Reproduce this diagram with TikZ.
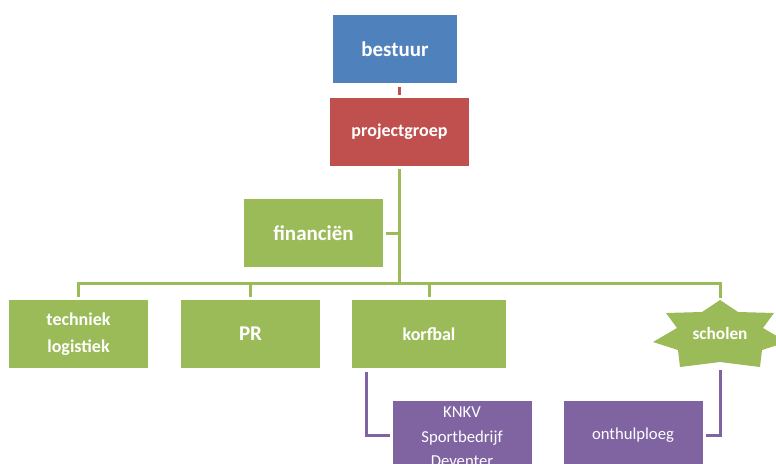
\documentclass[tikz,border=0pt]{standalone}
\usepackage{fontspec}
\setmainfont{Carlito}
\usepackage{tikz}
\definecolor{bestuurblue}{HTML}{4F81BD}
\definecolor{projred}{HTML}{C0504D}
\definecolor{teamgreen}{HTML}{9BBB59}
\definecolor{subpurple}{HTML}{8064A2}
\usetikzlibrary{positioning, calc}
\tikzstyle{block} = [rectangle, fill=teamgreen, text=white, inner sep=0pt, outer sep=0pt,
    minimum width=139pt, minimum height=68pt, align=center,
    font=\bfseries\fontsize{18}{27.5}\selectfont]
\tikzstyle{bigblock} = [block, font=\bfseries\fontsize{21}{25}\selectfont]
\tikzstyle{subblock} = [block, fill=subpurple, font=\fontsize{16.7}{24.5}\selectfont]
\tikzstyle{subtext} = [text=white, align=center, inner sep=0pt, font=\fontsize{16.7}{24.5}\selectfont]
\tikzstyle{starlabel} = [rectangle, text=white, inner sep=0pt, outer sep=0pt,
    minimum width=120pt, font=\bfseries\fontsize{17.3}{20}\selectfont]
\tikzstyle{greenline} = [draw=teamgreen, line width=3pt]
\tikzstyle{redline} = [draw=projred, line width=3pt, shorten <=3.5pt, shorten >=3.5pt]
\tikzstyle{purpleline} = [draw=subpurple, line width=3pt, shorten <=4pt, shorten >=3pt]

\begin{document}
\begin{tikzpicture}[x=1pt, y=-1pt]
    \useasboundingbox (0,0) rectangle (776,463);
    \clip (0,0) rectangle (776,463);

    % Place the blocks
    \node [bigblock, fill=bestuurblue, minimum width=124pt] (bestuur) at (395,49) {bestuur};
    \node [block, fill=projred, below=15pt of bestuur, xshift=4.5pt] (projectgroep) {projectgroep};
    \node [bigblock] (financien) at (313.5,233) {financiën};
    \node [block] (techniek) at (78.5,334) {techniek\\logistiek};
    \node [bigblock, right=33pt of techniek] (pr) {PR};
    \node [block, right=32pt of pr, minimum width=154pt] (korfbal) {korfbal};
    \coordinate (starc) at (720,335);
    \fill [teamgreen, shift={(starc)}] (0,-35) -- (-18,-23) -- (-54,-22) -- (-43,-7)
        -- (-67,7) -- (-42,15) -- (-40,32) -- (0,27) -- (40,32) -- (42,15) -- (67,7)
        -- (43,-7) -- (54,-22) -- (18,-23) -- cycle;
    \node [starlabel, minimum height=65pt] (scholen) at (720,333) {scholen};
    \node [subblock, label={[subtext, yshift=-2pt]center:{KNKV\\Sportbedrijf\\Deventer}}]
        (knkv) at (462,435) {};
    \node [subblock, right=32pt of knkv] (onthulploeg) {onthulploeg};
    \coordinate (hub) at (projectgroep.south |- 0,283);

    % Connect the nodes
    \draw [redline] (projectgroep.north |- bestuur.south) -- (projectgroep.north);
    \draw [greenline, shorten <=3pt] (projectgroep) -- (hub);
    \draw [greenline, shorten <=3pt] (financien) -- (financien -| hub);
    \foreach \team in {techniek, pr, korfbal, scholen}
        \draw [greenline, shorten >=3pt] (hub) -| (\team);
    \draw [purpleline] ([xshift=14pt]korfbal.south west) |- (knkv);
    \draw [purpleline] (scholen) |- (onthulploeg);
\end{tikzpicture}
\end{document}
